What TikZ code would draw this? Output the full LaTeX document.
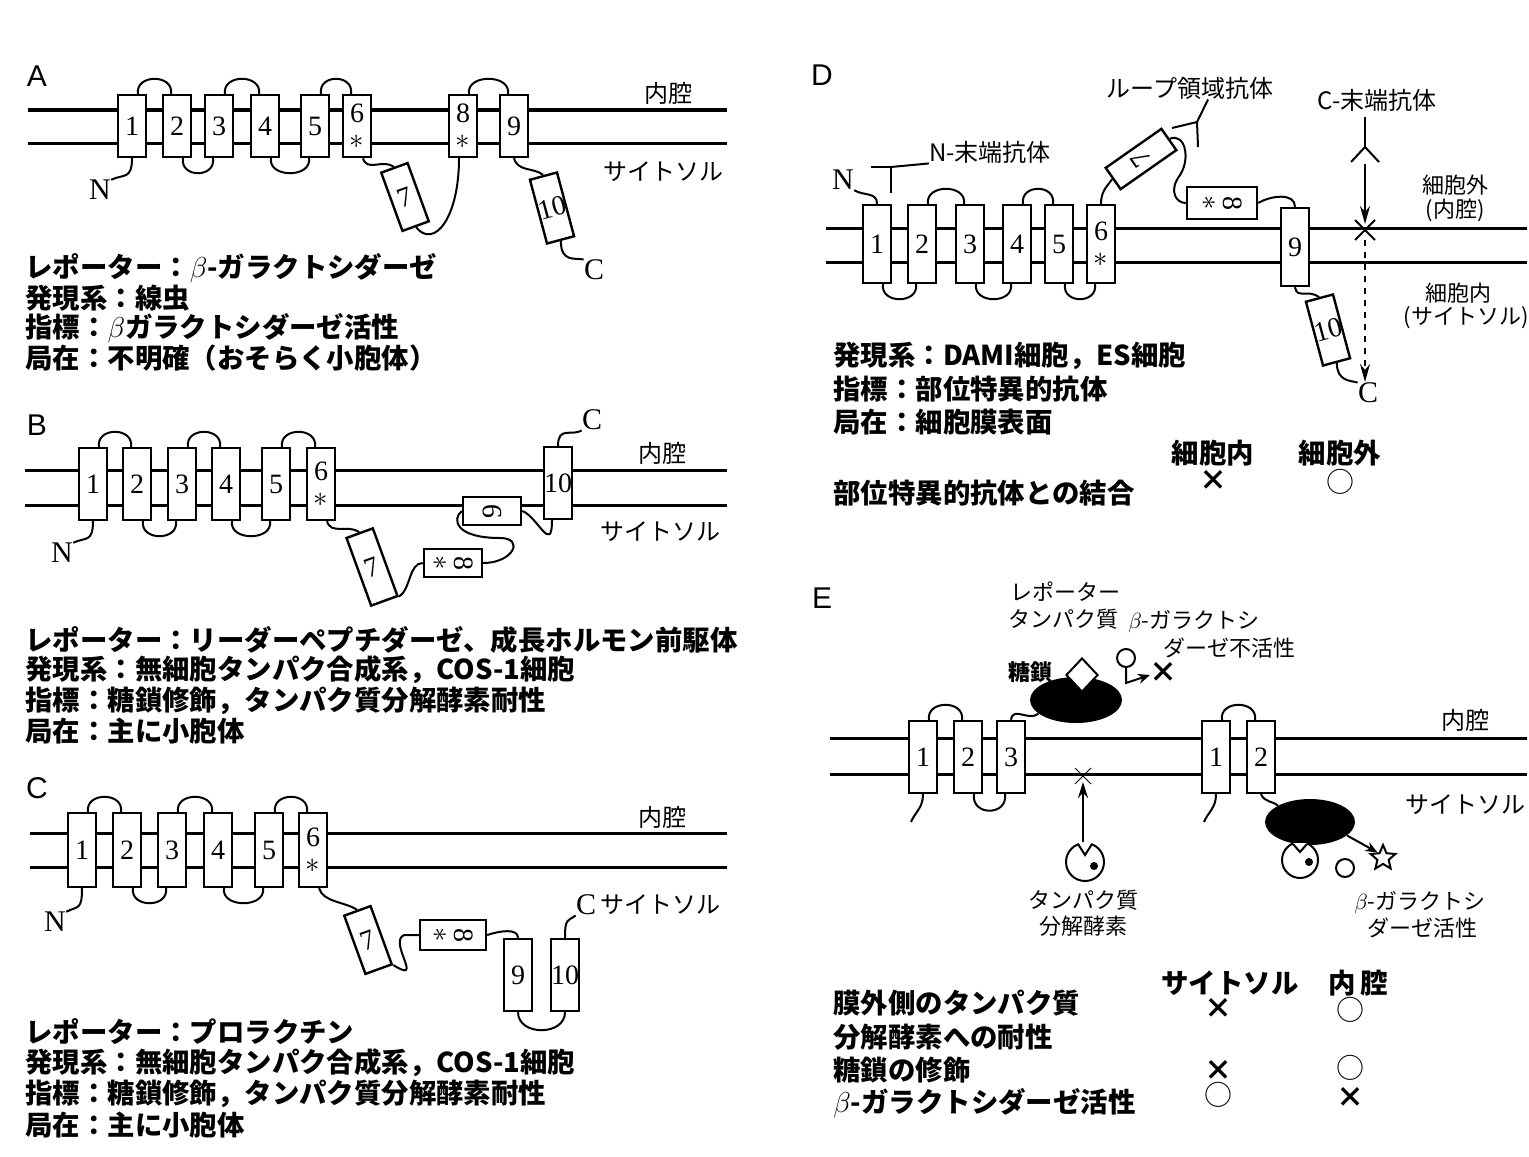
\documentclass[tikz,border=0pt]{standalone}
\usepackage{fontspec}
\setmainfont{Liberation Serif}
\newfontfamily\jpfont{Noto Sans CJK JP}
\newfontfamily\panelfont{Liberation Sans}
\usetikzlibrary{arrows.meta,shapes.geometric,calc}

\tikzset{
  mem/.style={line width=1.5pt},
  lp/.style={line width=1pt},
  tm/.style={draw, line width=1.2pt, fill=white, minimum width=14pt, minimum height=36pt,
    inner sep=0pt, align=center, font=\fontsize{14}{13}\selectfont},
  panel/.style={font=\panelfont\fontsize{15}{15}\selectfont, inner sep=0pt},
  term/.style={font=\fontsize{15}{15}\selectfont, inner sep=0pt},
  side/.style={font=\jpfont\fontsize{12}{13}\selectfont, inner sep=0pt},
  small/.style={font=\jpfont\fontsize{11}{12}\selectfont, inner sep=0pt},
  desc/.style={font=\jpfont\bfseries\fontsize{13.7}{15}\selectfont, anchor=west, inner sep=0pt},
  yn/.style={font=\jpfont\fontsize{14}{14}\selectfont, inner sep=0pt},
  ynx/.style={font=\jpfont\bfseries\fontsize{14}{14}\selectfont, inner sep=0pt},
  tip/.style={-{Stealth[length=9pt,width=5pt]}},
}

\begin{document}
\begin{tikzpicture}[x=0.5pt,y=-0.5pt]
  \useasboundingbox (0,0) rectangle (1529,1156);

  % ---------- A ----------
  \node[panel] (labA) at (37,76) {A};
  \draw[mem] (28,110) -- (727,110);
  \draw[mem] (28,143) -- (727,143);
  \foreach \n/\x in {1/132,2/177,3/219,4/265,5/315} {
    \node[tm, minimum height=31pt] (a\n) at (\x,126) {\n};
  }
  \node[tm, minimum height=31pt] (a6) at (357,126) {6\\[0pt]$\ast$};
  \node[tm, minimum height=31pt] (a8) at (463,126) {8\\[0pt]$\ast$};
  \node[tm, minimum height=31pt] (a9) at (514,126) {9};
  \node[tm, minimum height=31pt, rotate=20] (a7) at (405,197) {7};
  \node[tm, minimum height=33pt, rotate=15] (a10) at (552,208) {10};
  \node[term] (aN) at (100,190) {N};
  \node[term] (aC) at (594,270) {C};
  \node[side] (aLum) at (668,93) {内腔};
  \node[side] (aCyt) at (663,172) {サイトソル};

  \foreach \p/\q in {a1/a2,a3/a4,a5/a6,a8/a9} {
    \draw[lp] ([xshift=3pt]\p.north) .. controls +(-3,-20) and +(3,-20) .. ([xshift=-3pt]\q.north);
  }
  \foreach \p/\q in {a2/a3,a4/a5} {
    \draw[lp] ([xshift=3pt]\p.south) .. controls +(-3,20) and +(3,20) .. ([xshift=-3pt]\q.south);
  }
  \draw[lp] (a1.south) .. controls +(0,22) and +(12,-6) .. (aN.north east);
  \draw[lp] ([xshift=3pt]a6.south) .. controls +(4,14) and +(-12,-8) .. (a7.north);
  \draw[lp] (a7.south) .. controls +(18,22) and +(0,60) .. ([xshift=-2pt]a8.south);
  \draw[lp] (a9.south) .. controls +(4,14) and +(-10,-8) .. (a10.north);
  \draw[lp] (a10.south) .. controls +(0,22) and +(-8,-2) .. (aC.north west);

  \node[desc] (aRep) at (25,268) {レポーター：$\beta$-ガラクトシダーゼ};
  \node[desc] (aSys) at (25,298) {発現系：線虫};
  \node[desc] (aInd) at (25,328) {指標：$\beta$ガラクトシダーゼ活性};
  \node[desc] (aLoc) at (25,358) {局在：不明確（おそらく小胞体）};

  % ---------- B ----------
  \node[panel] (labB) at (37,425) {B};
  \draw[mem] (25,470) -- (727,470);
  \draw[mem] (25,505) -- (727,505);
  \foreach \n/\x in {1/93,2/137,3/182,4/226,5/276} {
    \node[tm] (b\n) at (\x,484) {\n};
  }
  \node[tm] (b6) at (321,484) {6\\[0pt]$\ast$};
  \node[tm] (b10) at (558,483) {10};
  \node[tm, rotate=20] (b7) at (372,567) {7};
  \node[tm, minimum height=29pt, rotate=-90] (b8) at (453,563) {8\\[-2pt]$\ast$};
  \node[tm, minimum height=29pt, rotate=90] (b9) at (492,511) {9};
  \node[term] (bN) at (62,553) {N};
  \node[term] (bC) at (592,420) {C};
  \node[side] (bLum) at (662,453) {内腔};
  \node[side] (bCyt) at (660,532) {サイトソル};

  \foreach \p/\q in {b1/b2,b3/b4,b5/b6} {
    \draw[lp] ([xshift=3pt]\p.north) .. controls +(-3,-20) and +(3,-20) .. ([xshift=-3pt]\q.north);
  }
  \foreach \p/\q in {b2/b3,b4/b5} {
    \draw[lp] ([xshift=3pt]\p.south) .. controls +(-3,20) and +(3,20) .. ([xshift=-3pt]\q.south);
  }
  \draw[lp] (b1.south) .. controls +(0,22) and +(12,-6) .. (bN.north east);
  \draw[lp] ([xshift=3pt]b6.south) .. controls +(4,14) and +(-12,-8) .. (b7.north);
  \draw[lp] (b7.south east) .. controls +(12,-8) and +(-14,0) .. (b8.south);
  \draw[lp] (b8.north) .. controls +(30,0) and +(25,0) .. (500,538)
    .. controls +(-45,0) and +(-10,8) .. (b9.north);
  \draw[lp] (b9.south) .. controls +(15,5) and +(0,35) .. ([xshift=-3pt]b10.south);
  \draw[lp] (b10.north) .. controls +(0,-20) and +(-10,6) .. (bC.south west);

  \node[desc] (bRep) at (25,640) {レポーター：リーダーペプチダーゼ、成長ホルモン前駆体};
  \node[desc] (bSys) at (25,670) {発現系：無細胞タンパク合成系，COS-1細胞};
  \node[desc] (bInd) at (25,701) {指標：糖鎖修飾，タンパク質分解酵素耐性};
  \node[desc] (bLoc) at (25,731) {局在：主に小胞体};

  % ---------- C ----------
  \node[panel] (labC) at (37,788) {C};
  \draw[mem] (30,833) -- (727,833);
  \draw[mem] (30,867) -- (727,867);
  \foreach \n/\x in {1/82,2/127,3/172,4/218,5/269} {
    \node[tm, minimum height=37pt] (c\n) at (\x,850) {\n};
  }
  \node[tm, minimum height=37pt] (c6) at (313,850) {6\\[0pt]$\ast$};
  \node[tm, minimum height=31pt, rotate=20] (c7) at (368,940) {7};
  \node[tm, minimum height=33pt, minimum width=15pt, rotate=-90] (c8) at (453,935) {8\\[-2pt]$\ast$};
  \node[tm] (c9) at (518,975) {9};
  \node[tm] (c10) at (565,975) {10};
  \node[term] (cN) at (55,922) {N};
  \node[term] (cC) at (586,905) {C};
  \node[side] (cLum) at (662,817) {内腔};
  \node[side] (cCyt) at (660,905) {サイトソル};

  \foreach \p/\q in {c1/c2,c3/c4,c5/c6} {
    \draw[lp] ([xshift=3pt]\p.north) .. controls +(-3,-20) and +(3,-20) .. ([xshift=-3pt]\q.north);
  }
  \foreach \p/\q in {c2/c3,c4/c5} {
    \draw[lp] ([xshift=3pt]\p.south) .. controls +(-3,20) and +(3,20) .. ([xshift=-3pt]\q.south);
  }
  \draw[lp] (c1.south) .. controls +(0,22) and +(12,-6) .. (cN.north east);
  \draw[lp] ([xshift=3pt]c6.south) .. controls +(4,14) and +(-12,-8) .. (c7.north);
  \draw[lp] (c8.south) -- (404,935) .. controls (388,942) and (425,985) .. (c7.south east);
  \draw[lp] (c8.north) .. controls +(12,-4) and +(0,-10) .. (c9.north);
  \draw[lp] (c9.south) .. controls +(0,24) and +(0,24) .. (c10.south);
  \draw[lp] (c10.north) .. controls +(0,-20) and +(-8,6) .. (cC.south west);

  \node[desc] (cRep) at (25,1032) {レポーター：プロラクチン};
  \node[desc] (cSys) at (25,1063) {発現系：無細胞タンパク合成系，COS-1細胞};
  \node[desc] (cInd) at (25,1094) {指標：糖鎖修飾，タンパク質分解酵素耐性};
  \node[desc] (cLoc) at (25,1125) {局在：主に小胞体};

  % ---------- D ----------
  \node[panel] (labD) at (822,75) {D};
  \draw[mem] (826,228) -- (1527,228);
  \draw[mem] (826,262) -- (1527,262);
  \foreach \n/\x in {1/877,2/922,3/970,4/1017,5/1059} {
    \node[tm, minimum height=39pt] (d\n) at (\x,244) {\n};
  }
  \node[tm, minimum height=39pt] (d6) at (1101,244) {6\\[0pt]$\ast$};
  \node[tm, minimum height=39pt] (d9) at (1295,247) {9};
  \node[tm, minimum height=34pt, minimum width=13pt, rotate=125] (d7) at (1141,159) {7};
  \node[tm, minimum height=35pt, minimum width=16pt, rotate=-90] (d8) at (1222,203) {8\\[-2pt]$\ast$};
  \node[tm, minimum height=33pt, rotate=15] (d10) at (1328,330) {10};
  \node[term] (dN) at (843,180) {N};
  \node[term] (dC) at (1368,393) {C};
  \node[side] (dNab) at (990,152) {N-末端抗体};
  \node[side] (dLab) at (1190,88) {ループ領域抗体};
  \node[side] (dCab) at (1377,100) {C-末端抗体};
  \node[small] (dOut) at (1455,185) {細胞外};
  \node[small] (dOut2) at (1455,210) {(内腔)};
  \node[small] (dIn) at (1458,293) {細胞内};
  \node[small] (dIn2) at (1466,318) {(サイトソル)};

  \foreach \p/\q in {d2/d3,d4/d5} {
    \draw[lp] ([xshift=3pt]\p.north) .. controls +(-3,-20) and +(3,-20) .. ([xshift=-3pt]\q.north);
  }
  \foreach \p/\q in {d1/d2,d3/d4,d5/d6} {
    \draw[lp] ([xshift=3pt]\p.south) .. controls +(-3,20) and +(3,20) .. ([xshift=-3pt]\q.south);
  }
  \draw[lp] (d1.north) .. controls +(0,-12) and +(10,6) .. (dN.south east);
  \draw[lp] (d6.north) .. controls +(0,-12) and +(-6,8) .. (d7.north);
  \draw[lp] (d7.south) .. controls (1185,132) and (1192,160) .. (1178,178)
    .. controls (1170,190) and (1175,203) .. (d8.south);
  \draw[lp] (d8.north) .. controls (1272,195) and (1295,193) .. (d9.north);
  \draw[lp] (d9.south) .. controls +(2,12) and +(-12,-8) .. (d10.north);
  \draw[lp] (d10.south) .. controls +(0,18) and +(-8,-2) .. (dC.north west);

  % antibodies
  \draw[lp] (871,167) -- (891,167) -- (891,193);
  \draw[lp] (891,167) -- (dNab.south west);
  \coordinate (loopab) at (1197,122);
  \draw[lp] ([xshift=9pt]dLab.south) -- (loopab) -- (1172,128);
  \draw[lp] (loopab) -- (1198,147);
  \coordinate (cab) at (1365,147);
  \draw[lp] (1365,117) -- (cab);
  \draw[lp] (1351,162) -- (cab) -- (1379,162);
  \draw[lp, tip] (1365,164) -- (1365,224);
  \draw[lp] (1355,220) -- (1375,240) (1375,220) -- (1355,240);
  \draw[lp, dashed, tip] (1365,240) -- (1365,382);

  \node[desc] (dSys) at (833,356) {発現系：DAMI細胞，ES細胞};
  \node[desc] (dInd) at (833,389) {指標：部位特異的抗体};
  \node[desc] (dLoc) at (833,422) {局在：細胞膜表面};
  \node[desc, anchor=center] (dHin) at (1213,453) {細胞内};
  \node[desc, anchor=center] (dHout) at (1340,453) {細胞外};
  \node[desc] (dBind) at (833,493) {部位特異的抗体との結合};
  \node[ynx] (dInX) at (1213,480) {×};
  \node[yn] (dOutO) at (1340,482) {○};

  % ---------- E ----------
  \node[panel] (labE) at (822,598) {E};
  \draw[mem] (830,738) -- (1527,738);
  \draw[mem] (830,774) -- (1527,774);
  \foreach \n/\x in {1/923,2/968,3/1011} {
    \node[tm] (e\n) at (\x,757) {\n};
  }
  \foreach \n/\x in {1/1216,2/1261} {
    \node[tm] (f\n) at (\x,757) {\n};
  }
  \node[side] (eLum) at (1465,720) {内腔};
  \node[side] (eCyt) at (1465,805) {サイトソル};

  \foreach \p/\q in {e1/e2,f1/f2} {
    \draw[lp] ([xshift=3pt]\p.north) .. controls +(-3,-20) and +(3,-20) .. ([xshift=-3pt]\q.north);
  }
  \draw[lp] ([xshift=3pt]e2.south) .. controls +(-3,22) and +(3,22) .. ([xshift=-3pt]e3.south);
  \draw[lp] (e1.south) .. controls +(0,14) and +(4,-10) .. (911,822);
  \draw[lp] (f1.south) .. controls +(0,14) and +(4,-10) .. (1204,822);

  % reporter on the lumen side
  \node[ellipse, fill=black, minimum width=46pt, minimum height=23pt, inner sep=0pt] (eblob) at (1076,700) {};
  \draw[lp] (e3.north) .. controls +(2,-14) and +(-10,8) .. (eblob.200);
  \node[diamond, draw, fill=white, line width=1pt, minimum width=16pt, minimum height=17pt, inner sep=0pt] (esugar) at (1082,675) {};
  \node[side, font=\jpfont\bfseries\fontsize{11}{12}\selectfont] (esugarlab) at (1030,672) {糖鎖};
  \node[circle, draw, line width=1pt, minimum size=9pt, inner sep=0pt] (egal) at (1126,658) {};
  \draw[lp, -{Stealth[length=6pt,width=5pt]}] (egal.south) -- (1126,683) -- (1150,675);
  \node[ynx] (eoff) at (1163,672) {×};
  \node[small] (erep1) at (1065,592) {レポーター};
  \node[small] (erep2) at (1063,619) {タンパク質};
  \node[small, anchor=west] (eoff1) at (1128,622) {$\beta$-ガラクトシ};
  \node[small, anchor=west] (eoff2) at (1163,648) {ダーゼ不活性};

  % protease cannot cross the membrane
  \draw[thin] (1075,768) -- (1091,784) (1091,768) -- (1075,784);
  \draw[lp, -{Stealth[length=8pt,width=5pt]}] (1083,843) -- (1083,782);
  \draw[lp, fill=white] (1085,862) circle[radius=9.5pt];
  \fill[white] (1078,842) -- (1085,855) -- (1092,842) -- cycle;
  \draw[lp] (1078,844) -- (1085,855) -- (1092,844);
  \fill (1094,866) circle[radius=2pt];
  \node[small] (eprot1) at (1083,900) {タンパク質};
  \node[small] (eprot2) at (1083,926) {分解酵素};

  % reporter on the cytosol side
  \node[ellipse, fill=black, minimum width=45pt, minimum height=23pt, inner sep=0pt] (rblob) at (1310,822) {};
  \draw[lp] (f2.south) .. controls +(3,8) and +(-4,-4) .. (rblob.north west);
  \draw[lp, fill=white] (1300,860) circle[radius=9pt];
  \fill[white] (1293,843) -- (1300,852) -- (1307,843) -- cycle;
  \draw[lp] (1293,844) -- (1300,852) -- (1307,844);
  \fill (1309,862) circle[radius=2pt];
  \node[circle, draw, line width=1pt, minimum size=9pt, inner sep=0pt] (rgal) at (1345,868) {};
  \node[star, star points=5, star point ratio=2.2, draw, line width=1pt, minimum size=13pt, inner sep=0pt] (rstar) at (1383,858) {};
  \draw[lp, -{Stealth[length=6pt,width=5pt]}] (rblob.-20) -- (rstar.north west);
  \node[small] (eon1) at (1420,903) {$\beta$-ガラクトシ};
  \node[small] (eon2) at (1422,928) {ダーゼ活性};

  % summary table
  \node[desc, anchor=center] (hCyt) at (1230,983) {サイトソル};
  \node[desc, anchor=center] (hLum) at (1358,983) {内\,腔};
  \node[desc] (rProt) at (833,1003) {膜外側のタンパク質};
  \node[desc] (rProt2) at (833,1037) {分解酵素への耐性};
  \node[desc] (rGly) at (833,1070) {糖鎖の修飾};
  \node[desc] (rGal) at (833,1103) {$\beta$-ガラクトシダーゼ活性};
  \node[ynx] (m11) at (1218,1008) {×};
  \node[yn] (m12) at (1350,1010) {○};
  \node[ynx] (m21) at (1218,1070) {×};
  \node[yn] (m22) at (1350,1068) {○};
  \node[yn] (m31) at (1218,1095) {○};
  \node[ynx] (m32) at (1350,1097) {×};
\end{tikzpicture}
\end{document}
